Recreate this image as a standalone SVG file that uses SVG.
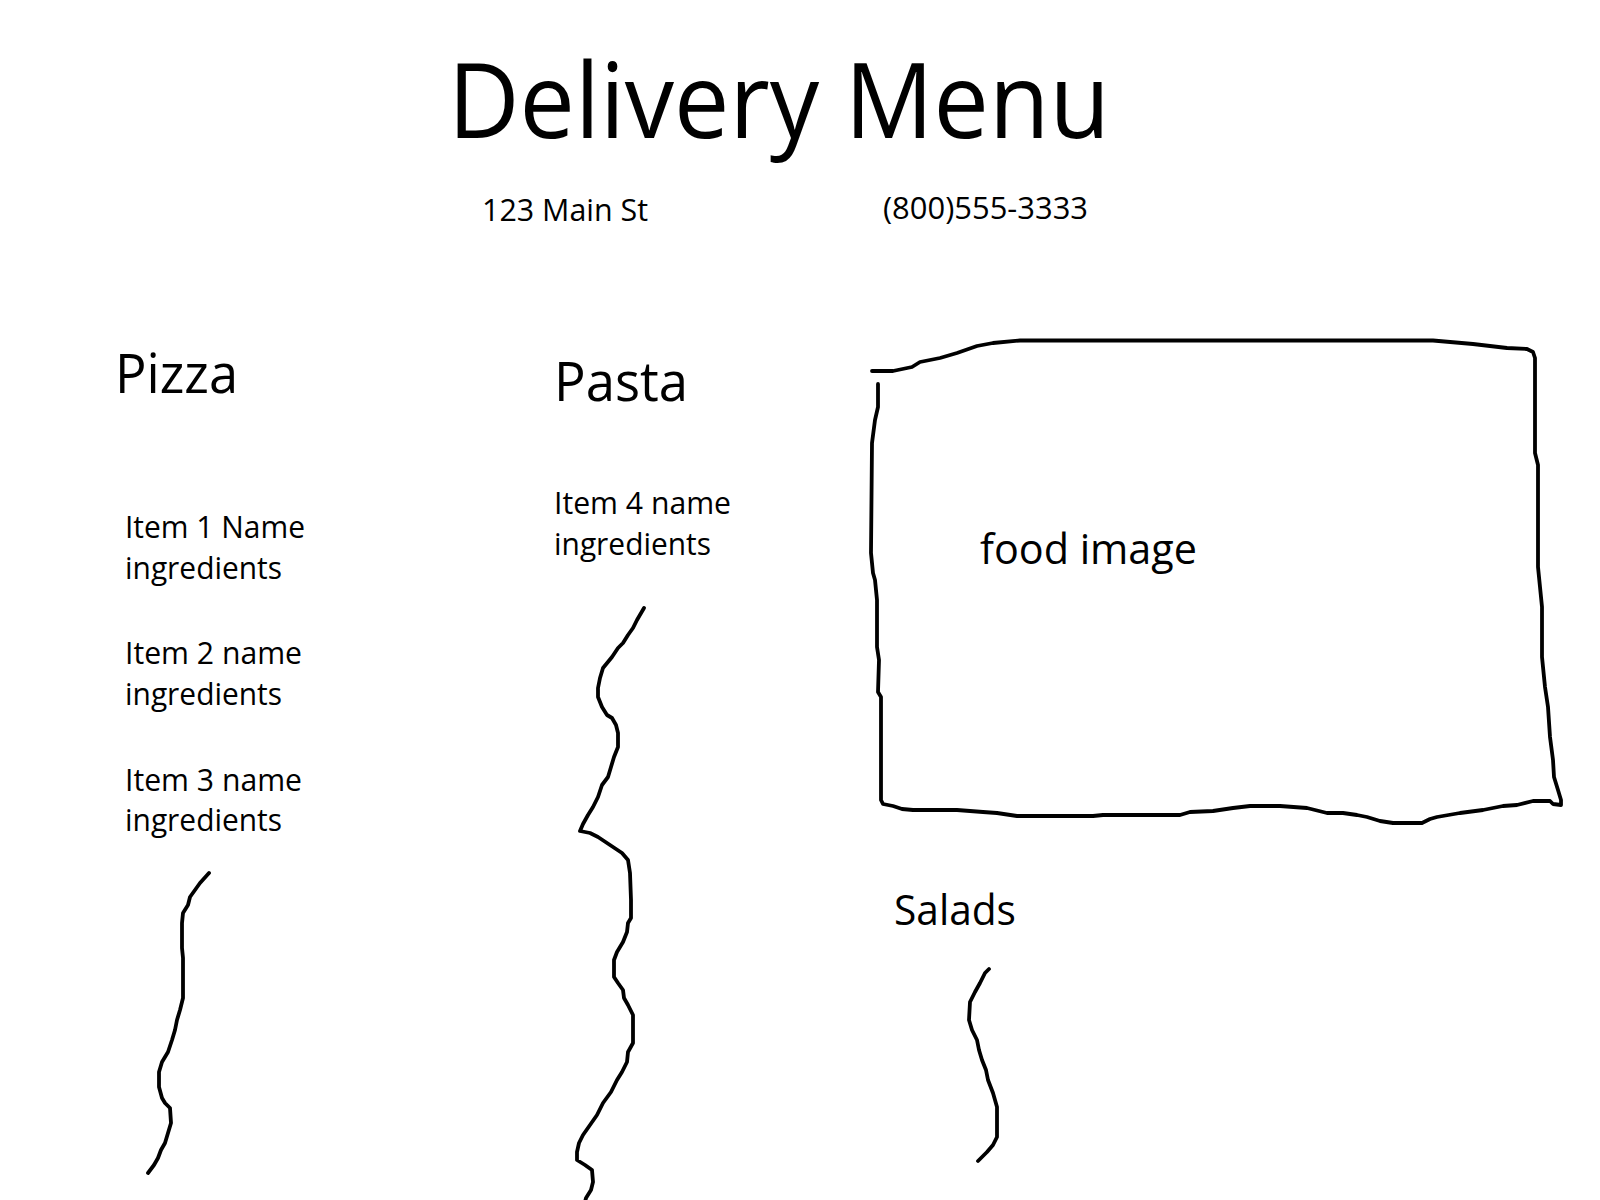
<svg xmlns="http://www.w3.org/2000/svg" width="1600" height="1200" viewBox="0 0 1600 1200">
<style>
text{font-family:"Open Sans","Noto Sans","Liberation Sans",sans-serif;fill:#000}
.t{font-size:105px}
.s{font-size:31px}
.h{font-size:54px}
.i{font-size:31px}
.m{font-size:42px}
.ln{fill:none;stroke:#000;stroke-width:3.8;stroke-linejoin:round;stroke-linecap:round}
</style>
<rect width="1600" height="1200" fill="#fff"/>
<g id="header">
<text class="t" x="448" y="138" textLength="662" lengthAdjust="spacingAndGlyphs">Delivery Menu</text>
<text class="s" x="482" y="221" textLength="166" lengthAdjust="spacingAndGlyphs">123 Main St</text>
<text class="s" x="883" y="219" textLength="205" lengthAdjust="spacingAndGlyphs">(800)555-3333</text>
</g>
<g id="pizza">
<text class="h" x="115" y="393" textLength="123" lengthAdjust="spacingAndGlyphs">Pizza</text>
<text class="i" x="125" y="538" textLength="180" lengthAdjust="spacingAndGlyphs">Item 1 Name</text>
<text class="i" x="125" y="579" textLength="157" lengthAdjust="spacingAndGlyphs">ingredients</text>
<text class="i" x="125" y="664" textLength="177" lengthAdjust="spacingAndGlyphs">Item 2 name</text>
<text class="i" x="125" y="705" textLength="157" lengthAdjust="spacingAndGlyphs">ingredients</text>
<text class="i" x="125" y="791" textLength="177" lengthAdjust="spacingAndGlyphs">Item 3 name</text>
<text class="i" x="125" y="831" textLength="157" lengthAdjust="spacingAndGlyphs">ingredients</text>
</g>
<g id="pasta">
<text class="h" x="554" y="401" textLength="134" lengthAdjust="spacingAndGlyphs">Pasta</text>
<text class="i" x="554" y="514" textLength="177" lengthAdjust="spacingAndGlyphs">Item 4 name</text>
<text class="i" x="554" y="555" textLength="157" lengthAdjust="spacingAndGlyphs">ingredients</text>
</g>
<g id="food-image">
<path class="ln" d="M878,384 L878,407 L875,420 L872,443 L871,553 L873,573 L875,580 L877,600 L877,647 L879,660 L878,692 L881,697 L881,800 L883,804 L893,806 L902,809 L913,810 L957,810 L983,812 L997,813 L1017,816 L1093,816 L1103,815 L1180,815 L1190,812 L1213,811 L1233,808 L1250,806 L1280,806 L1307,808 L1327,813 L1343,813 L1357,815 L1367,817 L1380,821 L1393,823 L1422,823 L1430,819 L1437,817 L1460,813 L1483,810 L1503,806 L1517,805 L1533,801 L1550,801 L1553,804 L1561,805 L1561,800 L1558,790 L1554,777 L1553,760 L1550,737 L1548,707 L1545,687 L1542,657 L1542,607 L1540,587 L1538,567 L1538,465 L1535,453 L1535,358 L1533,352 L1527,349 L1507,348 L1473,344 L1433,340.5 L1020,340.5 L993,343 L977,346 L957,353 L940,358 L920,362 L912,367 L893,371 L872,371"/>
<text class="m" x="980" y="564" textLength="217" lengthAdjust="spacingAndGlyphs">food image</text>
</g>
<g id="salads">
<text class="m" x="894" y="925" textLength="122" lengthAdjust="spacingAndGlyphs">Salads</text>
</g>
<g id="connectors">
<path class="ln" d="M209,873 L200,883 L190,897 L188,905 L183,913 L182,923 L182,948 L183,958 L183,998 L180,1010 L177,1020 L175,1030 L172,1040 L168,1052 L162,1062 L159,1072 L159,1087 L162,1098 L165,1103 L170,1108 L171,1123 L168,1133 L165,1143 L161,1150 L158,1158 L154,1165 L148,1173"/>
<path class="ln" d="M644,608 L637,620 L633,628 L628,635 L623,643 L618,648 L612,657 L603,668 L600,678 L598,688 L598,697 L602,707 L607,715 L612,718 L616,725 L618,733 L618,747 L614,757 L611,767 L608,777 L602,785 L598,797 L593,807 L588,815 L583,824 L580,831 L590,833 L598,837 L610,845 L622,853 L628,860 L630,873 L631,900 L631,918 L628,923 L627,932 L623,942 L617,952 L614,960 L614,977 L618,983 L623,990 L624,998 L628,1005 L633,1015 L633,1043 L628,1052 L627,1062 L622,1072 L617,1080 L611,1092 L603,1103 L597,1115 L590,1125 L583,1135 L579,1143 L577,1152 L577,1160 L585,1165 L592,1170 L593,1182 L591,1190 L586,1198 L585,1202"/>
<path class="ln" d="M989,969 L985,973 L980,983 L975,992 L970,1002 L969,1020 L972,1030 L977,1040 L979,1050 L982,1060 L986,1070 L988,1080 L993,1093 L997,1107 L997,1137 L993,1145 L987,1152 L978,1161"/>
</g>
</svg>
